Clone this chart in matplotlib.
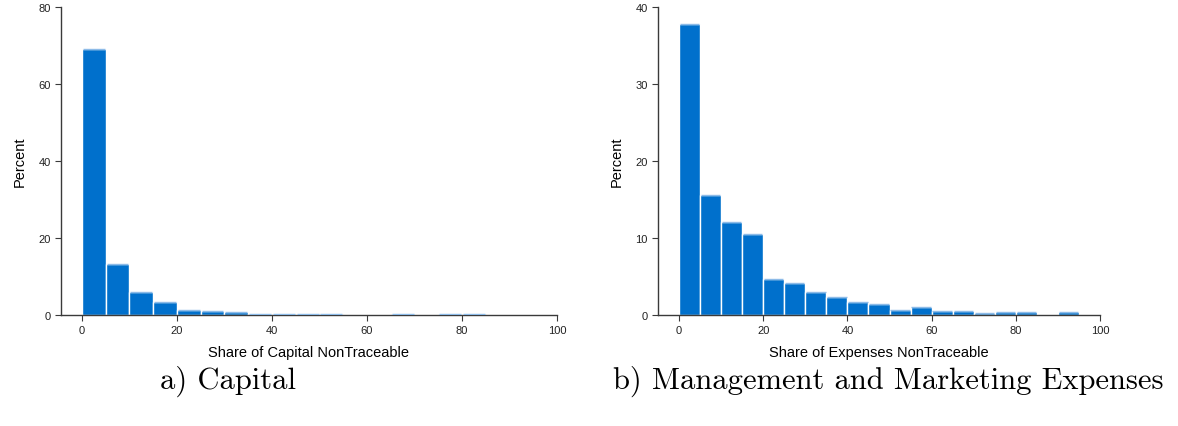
import numpy as np
import matplotlib.pyplot as plt

plt.rcParams['font.family'] = ['Liberation Sans', 'DejaVu Sans']

# bin edges of width 5 from 0 to 100
bin_left = np.arange(0, 100, 5)

capital_pct = [69.0, 13.2, 6.1, 3.5, 1.4, 0.95, 0.7, 0.25, 0.25, 0.3,
               0.3, 0.0, 0.0, 0.3, 0.0, 0.3, 0.3, 0.0, 0.0, 0.0]
expenses_pct = [37.8, 15.6, 12.1, 10.5, 4.7, 4.2, 3.0, 2.3, 1.65, 1.4,
                0.7, 1.0, 0.5, 0.5, 0.3, 0.4, 0.45, 0.0, 0.45, 0.0]

bar_col = '#0070CC'
edge_col = '#8dbbe8'
axis_col = '#3a3a3a'

fig = plt.figure(figsize=(11.78, 4.27), dpi=100)
ax1 = fig.add_axes([61/1178, 1-316/427, (557-61)/1178, (316-8)/427])
ax2 = fig.add_axes([658/1178, 1-316/427, (1100-658)/1178, (316-8)/427])

def draw(ax, vals, xlim0, ymax, yticks, xlabel):
    ax.bar(bin_left, vals, width=5, align='edge', color=bar_col,
           edgecolor='white', linewidth=1.0, zorder=2)
    # light top outline like the original
    for x, v in zip(bin_left, vals):
        if v > 0:
            ax.plot([x + 0.2, x + 4.8], [v, v], color=edge_col, lw=1.0,
                    zorder=3, solid_capstyle='butt')
    ax.set_xlim(xlim0, 100)
    ax.set_ylim(0, ymax)
    ax.set_xticks([0, 20, 40, 60, 80, 100])
    ax.set_yticks(yticks)
    for s in ['top', 'right']:
        ax.spines[s].set_visible(False)
    for s in ['left', 'bottom']:
        ax.spines[s].set_color(axis_col)
        ax.spines[s].set_linewidth(1.0)
    ax.tick_params(colors=axis_col, labelsize=8, length=4, width=0.8,
                   labelcolor='#222222')
    ax.set_ylabel('Percent', fontsize=10.5, labelpad=8)
    ax.set_xlabel(xlabel, fontsize=10.5, labelpad=7)

draw(ax1, capital_pct, -4.4, 80, [0, 20, 40, 60, 80],
     'Share of Capital NonTraceable')
draw(ax2, expenses_pct, -5, 40, [0, 10, 20, 30, 40],
     'Share of Expenses NonTraceable')

fig.text(228/1178, 1-381/427, 'a) Capital', family='cmr10', fontsize=22,
         ha='center', va='center')
fig.text(888/1178, 1-381/427, 'b) Management and Marketing Expenses',
         family='cmr10', fontsize=22, ha='center', va='center')

fig.savefig('out.png', dpi=100)
